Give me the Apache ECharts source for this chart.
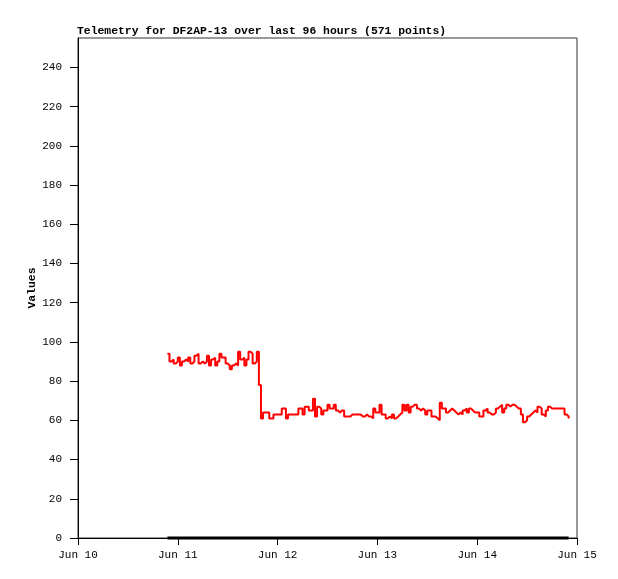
<!DOCTYPE html>
<html>
<head>
<meta charset="utf-8">
<script src="https://cdn.jsdelivr.net/npm/echarts@6/dist/echarts.min.js"></script>
<style>html,body{margin:0;padding:0;background:#fff}#c{width:618px;height:579px}</style>
</head>
<body>
<div id="c"></div>
<script>
// Telemetry channel 1 (red), sampled every 30 minutes starting Jun 10 21:30
const sampleStart = [2025, 5, 10, 21, 30];
const sampleStepMinutes = 30;
const telemetryValues = [
  94, 90, 91, 89, 90, 92, 88, 90, 91, 90,
  92, 89, 90, 93, 94, 89, 90, 89, 90, 93,
  88, 91, 92, 88, 90, 94, 92, 92, 89, 88,
  86, 88, 89, 88, 95, 91, 92, 88, 91, 95,
  94, 89, 90, 95, 78, 61, 64, 64, 64, 61,
  61, 63, 63, 63, 63, 66, 66, 61, 63, 63,
  63, 63, 63, 66, 66, 63, 67, 67, 65, 65,
  71, 62, 67, 66, 63, 65, 65, 68, 66, 66,
  68, 65, 64, 65, 65, 62, 62, 62, 63, 63,
  63, 63, 63, 62, 62, 63, 62, 62, 61, 66,
  64, 64, 68, 63, 63, 61, 62, 61, 63, 61,
  62, 63, 64, 68, 65, 68, 64, 67, 68, 68,
  66, 65, 66, 65, 63, 65, 65, 62, 62, 61,
  60, 69, 66, 66, 64, 65, 66, 65, 64, 63,
  64, 63, 65, 66, 64, 66, 65, 64, 64, 64,
  62, 62, 65, 66, 64, 63, 63, 64, 66, 67,
  68, 64, 66, 68, 67, 68, 68, 67, 66, 66,
  63, 59, 60, 62, 63, 64, 65, 64, 67, 66,
  63, 62, 65, 67, 66, 66, 66, 66, 66, 66,
  66, 63, 62, 61
];
// Telemetry channel 2 (black), constant zero over the same span
const zeroTimes = ['2025-06-10 21:30', '2025-06-14 22:00'];
const zeroValues = [0, 0];

const xTickLabels = ['Jun 10', 'Jun 11', 'Jun 12', 'Jun 13', 'Jun 14', 'Jun 15'];
const yTickValues = [0, 20, 40, 60, 80, 100, 120, 140, 160, 180, 200, 220, 240];

const titleText = 'Telemetry for DF2AP-13 over last 96 hours (571 points)';
const yName = 'Values';

const t0 = new Date(sampleStart[0], sampleStart[1], sampleStart[2], sampleStart[3], sampleStart[4]).getTime();
const redData = telemetryValues.map((v, i) => [t0 + i * sampleStepMinutes * 60000, v]);
const blackData = zeroTimes.map((s, i) => {
  const [d, h] = s.split(' ');
  const [Y, M, D] = d.split('-').map(Number);
  const [hh, mm] = h.split(':').map(Number);
  return [new Date(Y, M - 1, D, hh, mm).getTime(), zeroValues[i]];
});
const xMin = new Date(2025, 5, 10).getTime();
const xMax = new Date(2025, 5, 15).getTime();
const DAY = 86400000;

const FONT = '"Liberation Mono", "DejaVu Sans Mono", monospace';

const chart = echarts.init(document.getElementById('c'), null, {renderer: 'canvas'});
chart.setOption({
  animation: false,
  backgroundColor: '#fff',
  title: {
    text: titleText,
    left: 77, top: 26, padding: 0,
    textStyle: {fontFamily: FONT, fontSize: 11.4, fontWeight: 'bold', color: '#000'}
  },
  grid: {
    left: 78, right: 41, top: 38, bottom: 41,
    show: true, borderColor: '#333', borderWidth: 1, backgroundColor: 'transparent'
  },
  xAxis: {
    type: 'time',
    min: xMin, max: xMax,
    interval: DAY, minInterval: DAY, maxInterval: DAY,
    axisLine: {show: true, lineStyle: {color: '#000', width: 1}},
    axisTick: {show: true, length: 7, inside: false, lineStyle: {color: '#000'}},
    splitLine: {show: false},
    axisLabel: {
      fontFamily: FONT, fontSize: 11, color: '#000', margin: 12,
      formatter: (v) => xTickLabels[Math.round((v - xMin) / DAY)] || '',
      showMinLabel: true, showMaxLabel: true, hideOverlap: false
    }
  },
  yAxis: {
    type: 'value',
    min: 0, max: 255, interval: 20,
    name: yName, nameLocation: 'middle', nameGap: 40, nameRotate: 90,
    nameMoveOverlap: false,
    nameTextStyle: {fontFamily: FONT, fontSize: 11.4, fontWeight: 'bold', color: '#000'},
    axisLine: {show: true, lineStyle: {color: '#000', width: 1}},
    axisTick: {show: true, length: 8, lineStyle: {color: '#000'}, customValues: yTickValues},
    splitLine: {show: false},
    axisLabel: {
      fontFamily: FONT, fontSize: 11, color: '#000', margin: 16,
      customValues: yTickValues
    }
  },
  series: [
    {
      type: 'line', data: blackData, showSymbol: false, symbol: 'none', clip: false,
      lineStyle: {color: '#000', width: 3}, z: 3
    },
    {
      type: 'line', data: redData, showSymbol: false, symbol: 'none', step: 'end',
      lineStyle: {color: '#ff0000', width: 2}, z: 4
    }
  ]
});
</script>
</body>
</html>
